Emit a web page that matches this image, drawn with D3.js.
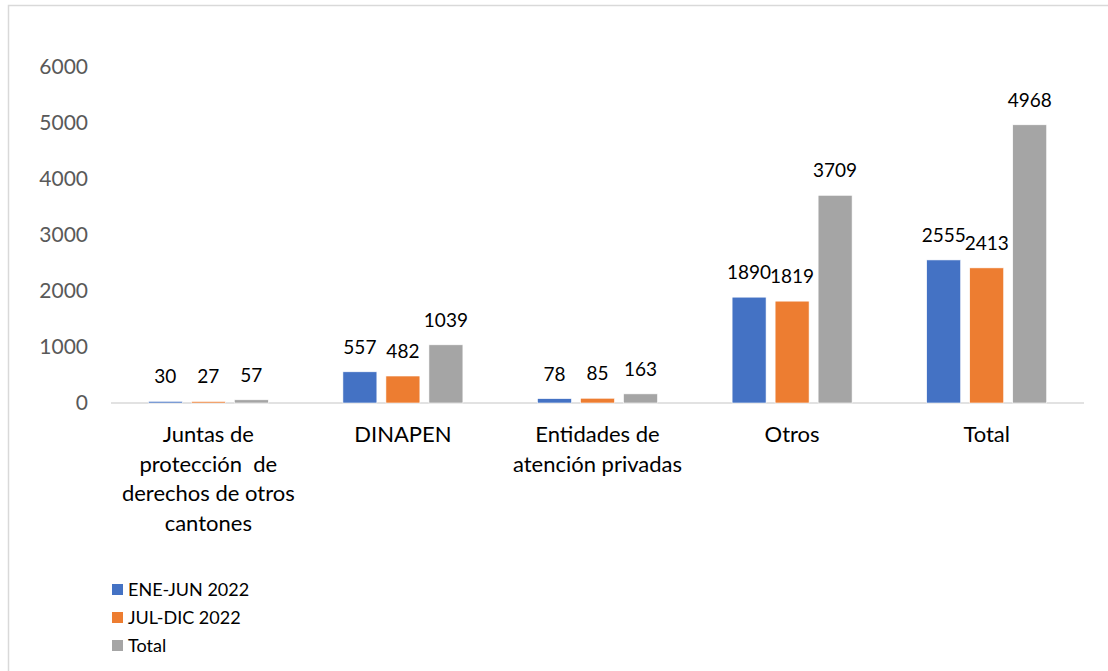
<!DOCTYPE html>
<html>
<head>
<meta charset="utf-8">
<script src="https://cdn.jsdelivr.net/npm/d3@7"></script>
<style>
  body { margin: 0; background: #fff; }
  svg { display: block; font-family: Lato, "Open Sans", sans-serif; }
</style>
</head>
<body>
<svg id="chart" width="1108" height="671"></svg>
<script>
// data
const categories = [
  ["Juntas de", "protección  de", "derechos de otros", "cantones"],
  ["DINAPEN"],
  ["Entidades de", "atención privadas"],
  ["Otros"],
  ["Total"]
]
const series = ["ENE-JUN 2022", "JUL-DIC 2022", "Total"]
const eneJun = [30, 557, 78, 1890, 2555]
const julDic = [27, 482, 85, 1819, 2413]
const total = [57, 1039, 163, 3709, 4968]
const yTicks = [0, 1000, 2000, 3000, 4000, 5000, 6000]
const colors = ["#4472C4", "#ED7D31", "#A5A5A5"]

const values = [eneJun, julDic, total]
const svg = d3.select("#chart")

// outer frame (right/bottom edges fall off the picture)
svg.append("rect")
  .attr("x", 8.5).attr("y", 5.5)
  .attr("width", 1200).attr("height", 800)
  .attr("fill", "none")
  .attr("stroke", "#d9d9d9")
  .attr("stroke-width", 1.5)

const plotLeft = 111, plotRight = 1084, plotTop = 67, plotBottom = 403

const x0 = d3.scaleBand()
  .domain(d3.range(categories.length))
  .range([plotLeft, plotRight])

const x1 = d3.scaleBand()
  .domain(series)
  .range([x0.bandwidth() / 2 - 60, x0.bandwidth() / 2 + 60])
  .paddingInner(0.21)

const y = d3.scaleLinear().domain([0, 6000]).range([plotBottom, plotTop])

// y labels
svg.append("g")
  .selectAll("text")
  .data(yTicks)
  .join("text")
  .attr("x", 88)
  .attr("y", d => y(d))
  .attr("dy", "0.35em")
  .attr("text-anchor", "end")
  .attr("fill", "#595959")
  .style("font-size", "21px")
  .text(d => d)

// baseline
svg.append("line")
  .attr("x1", plotLeft).attr("x2", plotRight)
  .attr("y1", y(0)).attr("y2", y(0))
  .attr("stroke", "#d9d9d9")
  .attr("stroke-width", 1.5)

const groups = svg.append("g")
  .selectAll("g")
  .data(categories)
  .join("g")
  .attr("transform", (d, i) => `translate(${x0(i)},0)`)

groups.each(function (cat, i) {
  const g = d3.select(this)
  const rows = series.map((s, k) => ({ s, v: values[k][i], c: colors[k] }))

  g.selectAll("rect")
    .data(rows)
    .join("rect")
    .attr("x", d => x1(d.s))
    .attr("y", d => y(d.v))
    .attr("width", x1.bandwidth())
    .attr("height", d => y(0) - y(d.v))
    .attr("fill", d => d.c)
    .attr("stroke", "#fff")
    .attr("stroke-width", 0.6)

  g.selectAll("text.val")
    .data(rows)
    .join("text")
    .attr("class", "val")
    .attr("x", d => x1(d.s) + x1.bandwidth() / 2)
    .attr("y", d => y(d.v) - 18)
    .attr("text-anchor", "middle")
    .attr("fill", "#000")
    .style("font-size", "19px")
    .text(d => d.v)

  g.selectAll("text.cat")
    .data(cat)
    .join("text")
    .attr("class", "cat")
    .attr("x", x0.bandwidth() / 2)
    .attr("y", (d, j) => 442 + j * 29.5)
    .attr("text-anchor", "middle")
    .attr("fill", "#000")
    .style("font-size", "22px")
    .style("white-space", "pre")
    .text(d => d)
})

// legend
const legend = svg.append("g")
  .selectAll("g")
  .data(series)
  .join("g")
  .attr("transform", (d, i) => `translate(112,${590 + i * 28})`)

legend.append("rect")
  .attr("x", 0).attr("y", -6)
  .attr("width", 11).attr("height", 11)
  .attr("fill", (d, i) => colors[i])

legend.append("text")
  .attr("x", 16)
  .attr("y", 0)
  .attr("dy", "0.35em")
  .attr("fill", "#000")
  .style("font-size", "18px")
  .text(d => d)
</script>
</body>
</html>
